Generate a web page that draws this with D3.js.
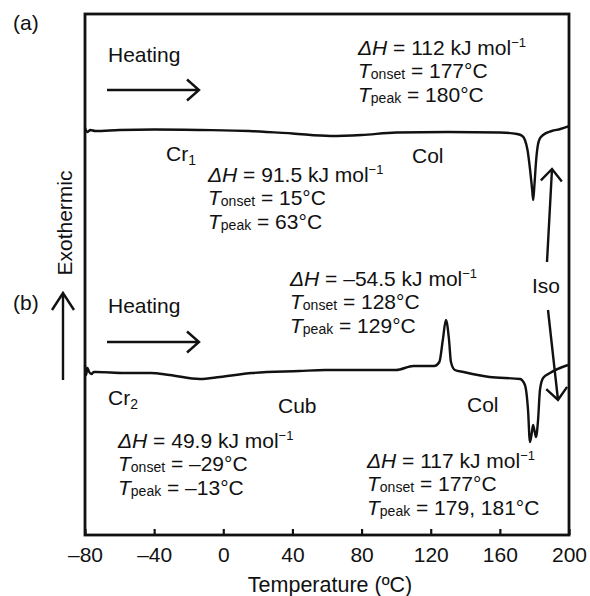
<!DOCTYPE html>
<html>
<head>
<meta charset="utf-8">
<script src="https://cdn.jsdelivr.net/npm/d3@7"></script>
<style>
  body { margin: 0; background: #fff; }
  svg text { font-family: "Liberation Sans", Arial, sans-serif; fill: #111; }
</style>
</head>
<body>
<div id="dsc"></div>
<script>
// DSC heating traces, (a) first heating and (b) second heating

// data (temperature in degC, heat flow in arbitrary units, exotherm up)
var tempA = [-80, -78.5, -77, -74, -60, -40, -13, 15, 40, 62, 80, 100, 130, 160, 170, 173,
  174.5, 176, 177.5, 178.7, 179.3, 180, 181, 182, 183, 185, 190, 195, 200];
var heatA = [407, 403, 405, 404, 405, 405.5, 405, 404, 401.5, 399, 400, 402.5, 403, 402.5, 401, 399,
  395, 385, 365, 345, 335, 350, 375, 390, 396, 400, 404, 406, 409];

var tempB = [-80, -79.4, -78.6, -77.6, -76.2, -75, -73.5, -57, -42, -31, -13.5, -2, 16.6, 44, 59,
  100, 110, 122, 125, 127, 128.8, 130.6, 131.7, 134, 139, 154, 171.7, 174.5, 176.3, 177.4,
  178.3, 179.2, 180.2, 180.9, 182.1, 183.2, 185, 189, 199.4];
var heatB = [170, 160, 167, 163, 161, 163, 163, 162, 162, 160, 156, 158, 162, 164, 165,
  165, 169, 169, 173, 195, 215, 195, 173, 165, 163, 158, 156, 150, 125, 93,
  100, 110, 103, 98, 115, 145, 157, 162, 170];

var xTicks = [-80, -40, 0, 40, 80, 120, 160, 200];

// set up svg area
var svgWidth = 590;
var svgHeight = 596;

var margin = {
  top: 14,
  left: 85,
  right: 21,
  bottom: 61
};

var width = svgWidth - margin.left - margin.right;
var height = svgHeight - margin.top - margin.bottom;

var svg = d3.select('#dsc')
  .append('svg')
  .attr('width', svgWidth)
  .attr('height', svgHeight);

var chartGroup = svg.append('g')
  .attr('transform', `translate(${margin.left}, ${margin.top})`);

// scales
var xScale = d3.scaleLinear()
  .domain([-80, 200])
  .range([0, width]);

var yScale = d3.scaleLinear()
  .domain([0, height])
  .range([height, 0]);

// bottom axis, ticks pointing inward
var bottomAxis = d3.axisBottom(xScale)
  .tickValues(xTicks)
  .tickSizeInner(-6)
  .tickSizeOuter(0)
  .tickPadding(12)
  .tickFormat(d => d < 0 ? '–' + Math.abs(d) : d);

var xAxis = chartGroup.append('g')
  .attr('transform', `translate(0, ${height})`)
  .call(bottomAxis);

xAxis.select('.domain').remove();
xAxis.selectAll('line').attr('stroke', '#111').attr('stroke-width', 2.2);
xAxis.selectAll('text')
  .attr('font-size', 21)
  .attr('font-family', '"Liberation Sans", Arial, sans-serif')
  .attr('fill', '#111');

// the frame
chartGroup.append('rect')
  .attr('width', width)
  .attr('height', height)
  .attr('fill', 'none')
  .attr('stroke', '#111')
  .attr('stroke-width', 2.8);

// the traces
var line = d3.line()
  .x(d => xScale(d[0]))
  .y(d => yScale(d[1]))
  .curve(d3.curveMonotoneX);

[[tempA, heatA], [tempB, heatB]].forEach(function(s) {
  chartGroup.append('path')
    .datum(d3.zip(s[0], s[1]))
    .attr('fill', 'none')
    .attr('stroke', '#111')
    .attr('stroke-width', 2.4)
    .attr('stroke-linejoin', 'round')
    .attr('d', line);
});

// axis title
svg.append('text')
  .attr('x', 330)
  .attr('y', 592)
  .attr('text-anchor', 'middle')
  .attr('font-size', 21.5)
  .text('Temperature (ºC)');

// rotated y label
svg.append('text')
  .attr('transform', 'translate(72, 223) rotate(-90)')
  .attr('text-anchor', 'middle')
  .attr('font-size', 21)
  .text('Exothermic');

// plain labels
function label(x, y, txt, sub) {
  var t = svg.append('text')
    .attr('x', x)
    .attr('y', y)
    .attr('font-size', 21)
    .text(txt);
  if (sub) {
    t.append('tspan').attr('font-size', 14).attr('dy', 4).text(sub);
  }
  return t;
}

label(13, 30, '(a)');
label(13, 310, '(b)');
label(108, 62, 'Heating');
label(108, 313, 'Heating');
label(166, 161, 'Cr', '1');
label(412, 163, 'Col');
label(108, 405, 'Cr', '2');
label(278, 413, 'Cub');
label(467, 412, 'Col');
label(532, 293, 'Iso');

// enthalpy / temperature blocks
function block(x, y, dh, onset, peak) {
  var step = 23.3;
  var t1 = svg.append('text').attr('x', x).attr('y', y).attr('font-size', 21);
  t1.append('tspan').attr('font-style', 'italic').text('ΔH');
  t1.append('tspan').text(' = ' + dh + ' kJ mol');
  t1.append('tspan').attr('font-size', 13).attr('dy', -8).text('−1');

  var t2 = svg.append('text').attr('x', x).attr('y', y + step).attr('font-size', 21);
  t2.append('tspan').attr('font-style', 'italic').text('T');
  t2.append('tspan').attr('font-size', 14).attr('dy', 1).text('onset');
  t2.append('tspan').attr('dy', -1).text(' = ' + onset + '°C');

  var t3 = svg.append('text').attr('x', x).attr('y', y + 2 * step).attr('font-size', 21);
  t3.append('tspan').attr('font-style', 'italic').text('T');
  t3.append('tspan').attr('font-size', 14).attr('dy', 1).text('peak');
  t3.append('tspan').attr('dy', -1).text(' = ' + peak + '°C');
}

block(358, 55, '112', '177', '180');
block(208, 182, '91.5', '15', '63');
block(290, 286, '–54.5', '128', '129');
block(118, 448, '49.9', '–29', '–13');
block(367, 468, '117', '177', '179, 181');

// arrows
function arrow(x1, y1, x2, y2, back, half) {
  var a = Math.atan2(y2 - y1, x2 - x1);
  var bx = x2 - back * Math.cos(a);
  var by = y2 - back * Math.sin(a);
  var nx = -Math.sin(a) * half;
  var ny = Math.cos(a) * half;
  svg.append('path')
    .attr('d', `M${x1},${y1}L${x2},${y2}M${bx + nx},${by + ny}L${x2},${y2}L${bx - nx},${by - ny}`)
    .attr('fill', 'none')
    .attr('stroke', '#111')
    .attr('stroke-width', 2.4);
}

arrow(107, 90, 199, 90, 12, 10.5);
arrow(107, 342, 199, 342, 12, 10.5);
arrow(63, 380, 63, 293, 17, 11);
arrow(547, 262, 552, 169, 12, 10.5);
arrow(548, 310, 558, 400, 12, 10.5);
</script>
</body>
</html>
